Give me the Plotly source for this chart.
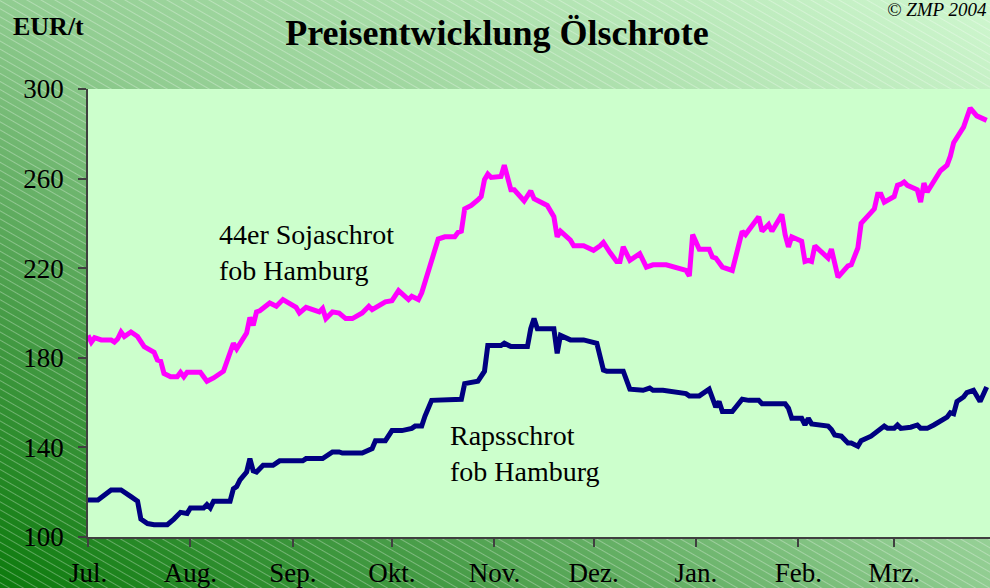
import base64
import plotly.graph_objects as go

# ---------------- data ----------------
soja_dates = [
    "2003-07-01", "2003-07-02", "2003-07-03", "2003-07-05", "2003-07-08", "2003-07-09", "2003-07-10",
    "2003-07-11", "2003-07-12", "2003-07-14", "2003-07-16", "2003-07-18", "2003-07-21", "2003-07-22",
    "2003-07-23", "2003-07-24", "2003-07-26", "2003-07-28", "2003-07-29", "2003-07-30", "2003-07-31",
    "2003-08-04", "2003-08-06", "2003-08-08", "2003-08-11", "2003-08-12", "2003-08-14", "2003-08-15",
    "2003-08-18", "2003-08-19", "2003-08-20", "2003-08-21", "2003-08-22", "2003-08-25", "2003-08-27",
    "2003-08-29",
    "2003-09-02", "2003-09-03", "2003-09-05", "2003-09-09", "2003-09-10", "2003-09-11", "2003-09-13",
    "2003-09-15", "2003-09-17", "2003-09-19", "2003-09-22", "2003-09-24", "2003-09-25", "2003-09-29",
    "2003-10-01", "2003-10-03", "2003-10-06", "2003-10-07", "2003-10-09", "2003-10-10", "2003-10-13",
    "2003-10-15", "2003-10-17", "2003-10-20", "2003-10-21", "2003-10-22", "2003-10-23", "2003-10-25",
    "2003-10-27", "2003-10-28", "2003-10-29", "2003-10-30", "2003-10-31",
    "2003-11-03", "2003-11-04", "2003-11-06", "2003-11-07", "2003-11-10", "2003-11-12", "2003-11-13",
    "2003-11-17", "2003-11-19", "2003-11-20", "2003-11-21", "2003-11-24", "2003-11-25", "2003-11-28",
    "2003-12-01", "2003-12-03", "2003-12-04", "2003-12-06", "2003-12-08", "2003-12-09", "2003-12-10",
    "2003-12-12", "2003-12-15", "2003-12-17", "2003-12-19", "2003-12-23", "2003-12-29", "2003-12-30",
    "2003-12-31",
    "2004-01-02", "2004-01-05", "2004-01-06", "2004-01-07", "2004-01-09", "2004-01-12", "2004-01-15",
    "2004-01-16", "2004-01-20", "2004-01-21", "2004-01-23", "2004-01-24", "2004-01-27", "2004-01-28",
    "2004-01-29", "2004-01-30",
    "2004-02-02", "2004-02-03", "2004-02-04", "2004-02-05", "2004-02-06", "2004-02-09", "2004-02-10",
    "2004-02-11", "2004-02-12", "2004-02-13", "2004-02-16", "2004-02-17", "2004-02-19", "2004-02-20",
    "2004-02-24", "2004-02-25", "2004-02-26", "2004-02-27",
    "2004-03-01", "2004-03-02", "2004-03-03", "2004-03-04", "2004-03-05", "2004-03-08", "2004-03-09",
    "2004-03-10", "2004-03-11", "2004-03-15", "2004-03-17", "2004-03-18", "2004-03-19", "2004-03-22",
    "2004-03-24", "2004-03-26", "2004-03-29",
]
soja_values = [
    190, 187, 189, 188, 188, 187, 188.5, 191.5, 189.5, 191.5, 189.5, 185, 182.5, 179, 178.5, 173,
    171.5, 171.5, 173.5, 171.5, 173.5,
    173.5, 169.5, 171, 174, 178, 186.5, 184, 191, 198, 194.5, 200.5, 201, 204.5, 203, 206,
    202.5, 200, 202.5, 200.5, 202, 197.5, 200.5, 200, 197.5, 197.5, 200, 203, 201.5, 205,
    205.5, 210, 206, 207.5, 206, 209, 223.5, 233, 234, 234, 236, 236.5, 246.5, 248, 250.5, 252,
    259.5, 262, 260.5,
    261, 266, 255, 255, 250, 254.5, 251, 248, 243, 234, 236.5, 232.5, 230, 230,
    228, 230, 231.5, 227, 223, 223, 229.5, 223.5, 226.5, 220.5, 221.5, 221.5, 219, 216.5, 235,
    228.5, 228.5, 225, 224.5, 220.5, 219, 236.5, 235, 243, 236.5, 239.5, 236.5, 244, 235, 229.5, 234,
    232, 223, 223.5, 223, 230, 226, 224.5, 228.5, 223, 216, 221, 221.5, 229, 240, 246.5, 253, 253,
    249.5,
    252, 257, 257.5, 258.5, 257, 255, 249.5, 258, 254, 263.5, 266, 270, 276, 283, 291.5, 288, 286,
]

raps_dates = [
    "2003-07-01", "2003-07-04", "2003-07-08", "2003-07-11", "2003-07-14", "2003-07-16", "2003-07-17",
    "2003-07-19", "2003-07-21", "2003-07-25", "2003-07-27", "2003-07-29", "2003-07-31",
    "2003-08-01", "2003-08-05", "2003-08-06", "2003-08-07", "2003-08-08", "2003-08-10", "2003-08-13",
    "2003-08-14", "2003-08-15", "2003-08-16", "2003-08-18", "2003-08-19", "2003-08-20", "2003-08-21",
    "2003-08-23", "2003-08-26", "2003-08-28",
    "2003-09-04", "2003-09-05", "2003-09-10", "2003-09-13", "2003-09-15", "2003-09-16", "2003-09-22",
    "2003-09-25", "2003-09-26", "2003-09-29",
    "2003-10-01", "2003-10-04", "2003-10-07", "2003-10-08", "2003-10-10", "2003-10-11", "2003-10-13",
    "2003-10-14", "2003-10-18", "2003-10-22", "2003-10-23", "2003-10-27", "2003-10-29", "2003-10-30",
    "2003-11-03", "2003-11-04", "2003-11-06", "2003-11-11", "2003-11-12", "2003-11-13", "2003-11-14",
    "2003-11-19", "2003-11-20", "2003-11-21", "2003-11-24", "2003-11-28",
    "2003-12-02", "2003-12-04", "2003-12-05", "2003-12-10", "2003-12-12", "2003-12-16", "2003-12-18",
    "2003-12-19", "2003-12-22", "2003-12-29", "2003-12-30",
    "2004-01-02", "2004-01-05", "2004-01-06", "2004-01-07", "2004-01-08", "2004-01-09", "2004-01-12",
    "2004-01-15", "2004-01-17", "2004-01-20", "2004-01-21", "2004-01-28", "2004-01-29", "2004-01-30",
    "2004-02-02", "2004-02-03", "2004-02-04", "2004-02-05", "2004-02-10", "2004-02-11", "2004-02-12",
    "2004-02-14", "2004-02-16", "2004-02-17", "2004-02-19", "2004-02-20", "2004-02-23", "2004-02-25",
    "2004-02-27", "2004-02-28",
    "2004-03-01", "2004-03-02", "2004-03-03", "2004-03-06", "2004-03-08", "2004-03-09", "2004-03-11",
    "2004-03-13", "2004-03-15", "2004-03-17", "2004-03-18", "2004-03-19", "2004-03-20", "2004-03-22",
    "2004-03-23", "2004-03-25", "2004-03-27", "2004-03-29",
]
raps_values = [
    116.5, 116.5, 121, 121, 118, 116, 108, 106, 105.5, 105.5,
    108, 111, 110.5, 113, 113, 114.5, 113, 116, 116, 116,
    121.5, 122.5, 125.5, 129, 135, 129.5, 129, 132, 132, 134,
    134, 135, 135, 138, 138, 137.5, 137.5, 139.5, 143, 143,
    147.5, 147.5, 148.5, 149.5, 149.5, 154, 161, 161, 161, 161.5,
    168.5, 169.5, 174, 185.5, 185.5, 186.5, 185, 185, 193, 197.5,
    193, 193, 182, 190, 188, 188, 186.5, 174.5, 174, 174,
    166, 165.5, 166.5, 165.5, 165.5, 164, 163, 163, 166, 162.5,
    158, 160.5, 156, 156, 161.5, 161, 161, 159.5, 159.5, 157.5,
    153, 153, 150, 153, 150.5, 149.5, 148, 145.5, 145, 142,
    142, 140.5, 143, 145, 147, 149.5, 148.5, 148.5, 150, 148.5,
    149, 150, 148.5, 148.5, 150, 151.5, 153.5, 155.5, 155, 160.5,
    162.5, 164.5, 165.5, 160.5, 167,
]

month_ticks = ["2003-07-01", "2003-08-01", "2003-09-01", "2003-10-01", "2003-11-01",
               "2003-12-01", "2004-01-01", "2004-02-01", "2004-03-01"]
month_labels = ["Jul.", "Aug.", "Sep.", "Okt.", "Nov.", "Dez.", "Jan.", "Feb.", "Mrz."]
y_ticks = [100, 140, 180, 220, 260, 300]

# ---------------- layout geometry ----------------
W, H = 990, 588
L, R, T, B = 88, 0, 89, 51
PW, PH = W - L - R, H - T - B
FONT = "Liberation Serif, Times New Roman, serif"

bg_svg = f"""<svg xmlns="http://www.w3.org/2000/svg" width="{W}" height="{H}">
<defs>
<linearGradient id="g" x1="0" y1="1" x2="1" y2="0">
<stop offset="0" stop-color="#0c7a0c"/>
<stop offset="0.25" stop-color="#4a9e4a"/>
<stop offset="0.5" stop-color="#90cc90"/>
<stop offset="1" stop-color="#cff7cf"/>
</linearGradient>
<pattern id="p" width="7" height="7" patternUnits="userSpaceOnUse" patternTransform="rotate(30)">
<line x1="0" y1="0.5" x2="7" y2="0.5" stroke="#ffffff" stroke-opacity="0.3" stroke-width="1"/>
</pattern>
</defs>
<rect width="{W}" height="{H}" fill="url(#g)"/>
<rect width="{W}" height="{H}" fill="url(#p)"/>
</svg>"""
bg_uri = "data:image/svg+xml;base64," + base64.b64encode(bg_svg.encode()).decode()

fig = go.Figure()
fig.add_trace(go.Scatter(x=soja_dates, y=soja_values, mode="lines",
                         line=dict(color="#ff00ff", width=5), name="44er Sojaschrot fob Hamburg",
                         showlegend=False))
fig.add_trace(go.Scatter(x=raps_dates, y=raps_values, mode="lines",
                         line=dict(color="#000080", width=5), name="Rapsschrot fob Hamburg",
                         showlegend=False))

fig.update_layout(
    width=W, height=H,
    margin=dict(l=L, r=R, t=T, b=B, autoexpand=False),
    paper_bgcolor="#7fbf7f",
    plot_bgcolor="#ccffcc",
    font=dict(family=FONT, color="#000000", size=27),
    title=dict(text="<b>Preisentwicklung Ölschrote</b>", x=497 / W, y=1 - 32 / H,
               xref="container", yref="container", xanchor="center", yanchor="middle",
               font=dict(family=FONT, size=36, color="#000000")),
    xaxis=dict(type="date", range=["2003-07-01", "2004-03-30"], tickvals=month_ticks,
               ticktext=month_labels, ticks="outside", ticklen=8, tickwidth=1.5,
               tickcolor="#404040", showline=True, linecolor="#404040", linewidth=1.5,
               showgrid=False, zeroline=False, tickfont=dict(family=FONT, size=27),
               ticklabelstandoff=3, automargin=False),
    yaxis=dict(range=[100, 300], tickvals=y_ticks, ticks="outside", ticklen=8, tickwidth=1.5,
               tickcolor="#404040", showline=True, linecolor="#404040", linewidth=1.5,
               showgrid=False, zeroline=False, tickfont=dict(family=FONT, size=27),
               ticklabelstandoff=9, automargin=False),
    images=[dict(source=bg_uri, xref="paper", yref="paper", x=-L / PW, y=1 + T / PH,
                 sizex=W / PW, sizey=H / PH, xanchor="left", yanchor="top",
                 sizing="stretch", layer="below")],
    shapes=[dict(type="rect", xref="paper", yref="paper", x0=0, x1=1, y0=0, y1=1,
                 fillcolor="#ccffcc", line=dict(width=0), layer="below")],
    annotations=[
        dict(text="44er Sojaschrot<br>fob Hamburg", x="2003-08-09", y=226.8, xref="x", yref="y",
             xanchor="left", yanchor="middle", align="left", showarrow=False,
             font=dict(family=FONT, size=28)),
        dict(text="Rapsschrot<br>fob Hamburg", x="2003-10-18", y=137.3, xref="x", yref="y",
             xanchor="left", yanchor="middle", align="left", showarrow=False,
             font=dict(family=FONT, size=28)),
        dict(text="<b>EUR/t</b>", x=(11 - L) / PW, y=1 + (T - 27) / PH, xref="paper", yref="paper",
             xanchor="left", yanchor="middle", showarrow=False,
             font=dict(family=FONT, size=26)),
        dict(text="<i>© ZMP 2004</i>", x=(989 - L) / PW, y=1 + (T - 10) / PH, xref="paper",
             yref="paper", xanchor="right", yanchor="middle", showarrow=False,
             font=dict(family=FONT, size=19)),
    ],
)

fig.write_html("out.html")
